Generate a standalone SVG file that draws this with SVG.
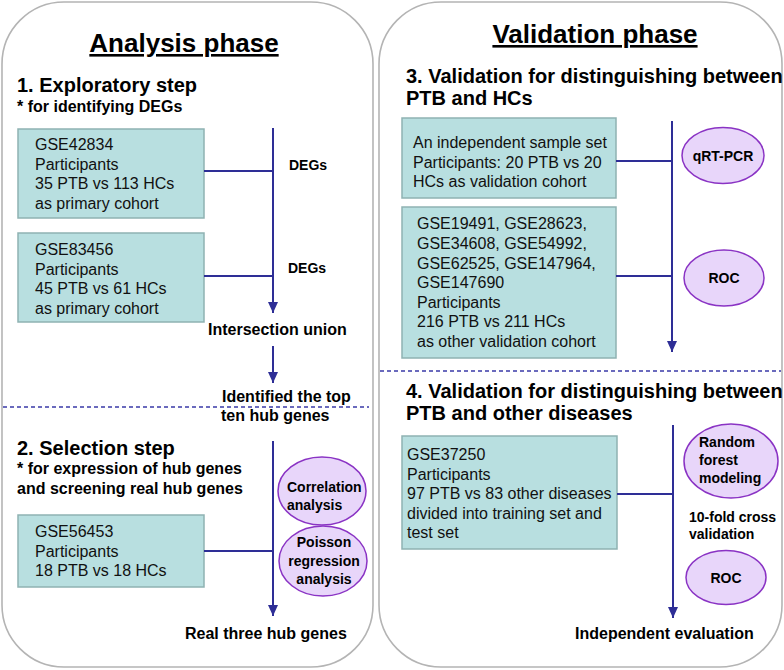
<svg xmlns="http://www.w3.org/2000/svg" width="784" height="670" viewBox="0 0 784 670">
<style>
text{font-family:"Liberation Sans",Arial,sans-serif;fill:#000}
.title{font-size:26px;font-weight:bold;text-decoration:underline}
.h{font-size:20px;font-weight:bold}
.sub{font-size:16px;font-weight:bold}
.bt{font-size:16px;fill:#111}
.lab{font-size:14px;font-weight:bold}
.panel{fill:#fff;stroke:#b4b4b4;stroke-width:1.6}
.box{fill:#b8dfe0;stroke:#8fb2b2;stroke-width:1.5}
.ell{fill:#e8d6fa;stroke:#8a33c4;stroke-width:1.5}
.ln{stroke:#2e2e96;stroke-width:2;fill:none}
.dash{stroke:#3a3aa8;stroke-width:1.3;stroke-dasharray:4 3;fill:none}
</style>
<defs>
<marker id="ah" markerWidth="11" markerHeight="10" refX="11" refY="5" orient="auto" markerUnits="userSpaceOnUse" viewBox="0 0 11 10">
<path d="M0,0 L11,5 L0,10 Z" fill="#2e2e96"/>
</marker>
</defs>
<g id="panel-left"><rect class="panel" x="2" y="2" width="371" height="665" rx="62" ry="62"/></g>
<g id="panel-right"><rect class="panel" x="379" y="2" width="403" height="665" rx="62" ry="62"/></g>

<g id="titles">
<text class="title" x="184" y="52" text-anchor="middle">Analysis phase</text>
<text class="title" x="595" y="43" text-anchor="middle">Validation phase</text>
</g>

<g id="step1">
<text class="h" x="17" y="92">1. Exploratory step</text>
<text class="sub" x="17" y="112">* for identifying DEGs</text>
</g>

<g id="box-gse42834">
<rect class="box" x="18" y="129" width="186" height="89"/>
<text class="bt" x="35" y="150">GSE42834</text>
<text class="bt" x="35" y="169.5">Participants</text>
<text class="bt" x="35" y="189">35 PTB vs 113 HCs</text>
<text class="bt" x="35" y="208.5">as primary cohort</text>
</g>

<g id="box-gse83456">
<rect class="box" x="18" y="233" width="186" height="89"/>
<text class="bt" x="35" y="255">GSE83456</text>
<text class="bt" x="35" y="274.5">Participants</text>
<text class="bt" x="35" y="294">45 PTB vs 61 HCs</text>
<text class="bt" x="35" y="313.5">as primary cohort</text>
</g>

<g id="step2">
<text class="h" x="17" y="455">2. Selection step</text>
<text class="sub" x="17" y="474">* for expression of hub genes</text>
<text class="sub" x="17" y="494">and screening real hub genes</text>
</g>

<g id="box-gse56453">
<rect class="box" x="18" y="515" width="186" height="72"/>
<text class="bt" x="35" y="537">GSE56453</text>
<text class="bt" x="35" y="556.5">Participants</text>
<text class="bt" x="35" y="576">18 PTB vs 18 HCs</text>
</g>

<g id="ell-correlation">
<ellipse class="ell" cx="322" cy="491" rx="44" ry="34"/>
<text class="lab" x="287" y="492">Correlation</text>
<text class="lab" x="287" y="510">analysis</text>
</g>
<g id="ell-poisson">
<ellipse class="ell" cx="323" cy="561" rx="44" ry="35"/>
<text class="lab" x="324" y="547" text-anchor="middle">Poisson</text>
<text class="lab" x="324" y="566" text-anchor="middle">regression</text>
<text class="lab" x="324" y="584" text-anchor="middle">analysis</text>
</g>

<g id="labels-left">
<text class="lab" x="289" y="170">DEGs</text>
<text class="lab" x="288" y="273">DEGs</text>
<text class="sub" x="208" y="335">Intersection union</text>
<text class="sub" x="222" y="402">Identified the top</text>
<text class="sub" x="221" y="421">ten hub genes</text>
<text class="sub" x="185" y="639">Real three hub genes</text>
</g>

<g id="step3">
<text class="h" x="406" y="83">3. Validation for distinguishing between</text>
<text class="h" x="406" y="105">PTB and HCs</text>
</g>

<g id="box-independent">
<rect class="box" x="402" y="118" width="214" height="80"/>
<text class="bt" x="413" y="148">An independent sample set</text>
<text class="bt" x="413" y="167.5">Participants: 20 PTB vs 20</text>
<text class="bt" x="413" y="187">HCs as validation cohort</text>
</g>

<g id="box-gse-multi">
<rect class="box" x="402" y="207" width="214" height="151"/>
<text class="bt" x="417" y="229">GSE19491, GSE28623,</text>
<text class="bt" x="417" y="249">GSE34608, GSE54992,</text>
<text class="bt" x="417" y="268.5">GSE62525, GSE147964,</text>
<text class="bt" x="417" y="288">GSE147690</text>
<text class="bt" x="417" y="307.5">Participants</text>
<text class="bt" x="417" y="327">216 PTB vs 211 HCs</text>
<text class="bt" x="417" y="346.5">as other validation cohort</text>
</g>

<g id="ell-qrtpcr">
<ellipse class="ell" cx="723" cy="155.5" rx="41" ry="28"/>
<text class="lab" x="723" y="160.5" text-anchor="middle">qRT-PCR</text>
</g>
<g id="ell-roc1">
<ellipse class="ell" cx="724" cy="278" rx="40" ry="28"/>
<text class="lab" x="724" y="283" text-anchor="middle">ROC</text>
</g>

<g id="step4">
<text class="h" x="406" y="398">4. Validation for distinguishing between</text>
<text class="h" x="406" y="420">PTB and other diseases</text>
</g>

<g id="box-gse37250">
<rect class="box" x="402" y="436" width="215" height="113"/>
<text class="bt" x="407" y="460">GSE37250</text>
<text class="bt" x="407" y="479.5">Participants</text>
<text class="bt" x="407" y="499">97 PTB vs 83 other diseases</text>
<text class="bt" x="407" y="518.5">divided into training set and</text>
<text class="bt" x="407" y="538">test set</text>
</g>

<g id="ell-rf">
<ellipse class="ell" cx="731" cy="461" rx="47" ry="37"/>
<text class="lab" x="699" y="447">Random</text>
<text class="lab" x="699" y="465">forest</text>
<text class="lab" x="699" y="483">modeling</text>
</g>
<g id="ell-roc2">
<ellipse class="ell" cx="726" cy="577.5" rx="40" ry="27"/>
<text class="lab" x="726" y="582.5" text-anchor="middle">ROC</text>
</g>

<g id="labels-right">
<text class="lab" x="689" y="522">10-fold cross</text>
<text class="lab" x="689" y="539">validation</text>
<text class="sub" x="575" y="639">Independent evaluation</text>
</g>

<g id="connectors">
<line class="ln" x1="204" y1="171" x2="273" y2="171"/>
<line class="ln" x1="204" y1="276" x2="273" y2="276"/>
<line class="ln" x1="273" y1="128" x2="273" y2="313" marker-end="url(#ah)"/>
<line class="ln" x1="273" y1="346" x2="273" y2="383" marker-end="url(#ah)"/>
<line class="ln" x1="204" y1="551" x2="273" y2="551"/>
<line class="ln" x1="273" y1="441" x2="273" y2="616" marker-end="url(#ah)"/>
<line class="ln" x1="616" y1="161" x2="672" y2="161"/>
<line class="ln" x1="616" y1="276" x2="672" y2="276"/>
<line class="ln" x1="672" y1="121" x2="672" y2="352" marker-end="url(#ah)"/>
<line class="ln" x1="617" y1="494" x2="673" y2="494"/>
<line class="ln" x1="673" y1="425" x2="673" y2="618" marker-end="url(#ah)"/>
<line class="dash" x1="3" y1="407" x2="369" y2="407"/>
<line class="dash" x1="380" y1="371" x2="781" y2="371"/>
</g>
</svg>
